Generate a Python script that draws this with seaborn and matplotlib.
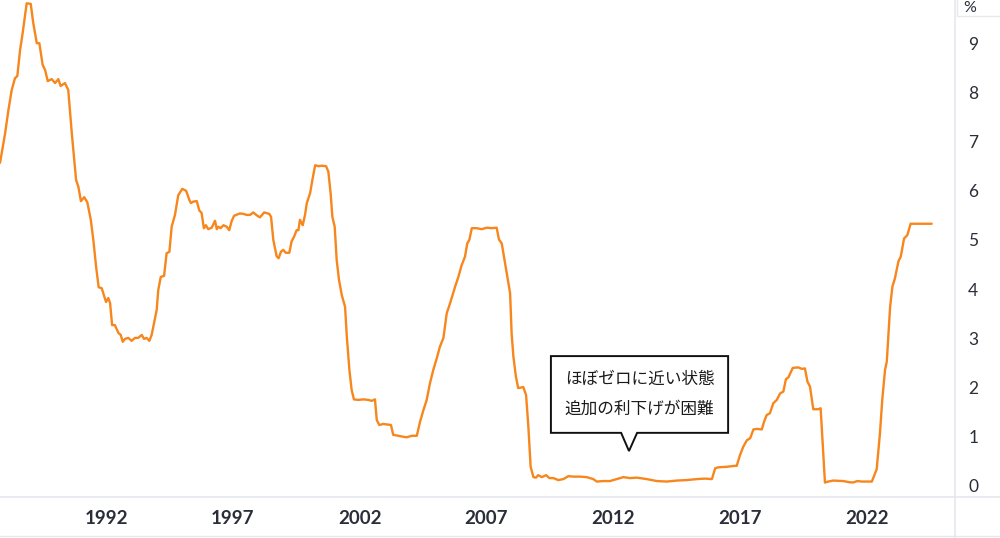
import matplotlib
matplotlib.use("Agg")
import matplotlib.pyplot as plt
import seaborn as sns
import pandas as pd
from matplotlib.patches import Polygon, Rectangle
from matplotlib.lines import Line2D

# policy rate (%), decimal years
years = [
    1987.82, 1988.02, 1988.15, 1988.28, 1988.41, 1988.50, 1988.61, 1988.71, 1988.87, 1989.03,
    1989.13, 1989.27, 1989.37, 1989.50, 1989.60, 1989.70, 1989.86, 1989.99, 1990.12, 1990.21,
    1990.38, 1990.51, 1990.65, 1990.82, 1990.91, 1991.01, 1991.14, 1991.26, 1991.40, 1991.50,
    1991.61, 1991.71, 1991.83, 1992.00, 1992.09, 1992.16, 1992.24, 1992.35, 1992.49, 1992.58,
    1992.66, 1992.75, 1992.88, 1993.01, 1993.14, 1993.27, 1993.41, 1993.50, 1993.60, 1993.71,
    1993.80, 1993.87, 1994.00, 1994.06, 1994.16, 1994.29, 1994.39, 1994.50, 1994.59, 1994.72,
    1994.85, 1995.01, 1995.16, 1995.29, 1995.35, 1995.44, 1995.58, 1995.68, 1995.77, 1995.86,
    1995.94, 1996.03, 1996.17, 1996.30, 1996.37, 1996.43, 1996.52, 1996.63, 1996.76, 1996.86,
    1996.96, 1997.05, 1997.18, 1997.29, 1997.42, 1997.55, 1997.68, 1997.81, 1997.95, 1998.07,
    1998.24, 1998.44, 1998.51, 1998.60, 1998.73, 1998.81, 1998.90, 1998.99, 1999.09, 1999.23,
    1999.32, 1999.42, 1999.52, 1999.59, 1999.65, 1999.76, 1999.85, 1999.92, 2000.05, 2000.14,
    2000.25, 2000.38, 2000.51, 2000.68, 2000.77, 2000.86, 2000.93, 2001.02, 2001.10, 2001.19,
    2001.30, 2001.43, 2001.50, 2001.60, 2001.69, 2001.78, 2001.95, 2002.15, 2002.35, 2002.48,
    2002.61, 2002.68, 2002.78, 2002.94, 2003.10, 2003.24, 2003.33, 2003.53, 2003.73, 2003.86,
    2004.06, 2004.26, 2004.39, 2004.52, 2004.65, 2004.78, 2004.91, 2005.05, 2005.17, 2005.31,
    2005.44, 2005.57, 2005.77, 2005.90, 2006.03, 2006.16, 2006.25, 2006.33, 2006.43, 2006.62,
    2006.82, 2007.02, 2007.22, 2007.41, 2007.50, 2007.61, 2007.74, 2007.87, 2007.94, 2008.00,
    2008.07, 2008.17, 2008.26, 2008.46, 2008.57, 2008.66, 2008.75, 2008.86, 2008.96, 2009.05,
    2009.19, 2009.36, 2009.49, 2009.65, 2009.84, 2010.04, 2010.24, 2010.43, 2010.70, 2010.96,
    2011.22, 2011.36, 2011.62, 2011.88, 2012.15, 2012.41, 2012.67, 2012.94, 2013.33, 2013.73,
    2014.12, 2014.52, 2014.91, 2015.31, 2015.63, 2015.90, 2016.03, 2016.16, 2016.49, 2016.81,
    2016.88, 2017.01, 2017.14, 2017.28, 2017.41, 2017.54, 2017.67, 2017.87, 2017.96, 2018.06,
    2018.19, 2018.32, 2018.46, 2018.59, 2018.72, 2018.82, 2018.92, 2019.09, 2019.31, 2019.45,
    2019.57, 2019.67, 2019.77, 2019.90, 2020.10, 2020.19, 2020.27, 2020.36, 2020.49, 2020.69,
    2021.09, 2021.28, 2021.46, 2021.64, 2021.81, 2022.21, 2022.40, 2022.53, 2022.62, 2022.73,
    2022.80, 2022.93, 2023.02, 2023.12, 2023.26, 2023.35, 2023.48, 2023.61, 2023.74, 2024.11,
    2024.57,
]
rates = [
    6.57, 7.17, 7.64, 8.05, 8.29, 8.33, 8.86, 9.20, 9.81, 9.80,
    9.41, 9.00, 9.00, 8.56, 8.45, 8.23, 8.27, 8.19, 8.27, 8.13,
    8.19, 8.05, 7.17, 6.22, 6.08, 5.79, 5.87, 5.77, 5.41, 5.00,
    4.45, 4.04, 4.02, 3.74, 3.82, 3.72, 3.27, 3.27, 3.11, 3.07,
    2.93, 2.99, 3.01, 2.95, 3.01, 3.01, 3.07, 2.99, 3.01, 2.95,
    3.07, 3.25, 3.58, 3.98, 4.25, 4.27, 4.73, 4.76, 5.27, 5.51,
    5.91, 6.04, 6.00, 5.81, 5.75, 5.78, 5.79, 5.60, 5.55, 5.24,
    5.30, 5.22, 5.25, 5.39, 5.22, 5.27, 5.24, 5.30, 5.27, 5.20,
    5.39, 5.49, 5.52, 5.54, 5.53, 5.51, 5.51, 5.56, 5.50, 5.46,
    5.56, 5.53, 5.47, 5.00, 4.67, 4.63, 4.76, 4.80, 4.74, 4.74,
    4.97, 5.07, 5.20, 5.20, 5.41, 5.30, 5.51, 5.75, 5.95, 6.22,
    6.52, 6.50, 6.51, 6.50, 6.39, 5.95, 5.47, 5.27, 4.59, 4.19,
    3.88, 3.64, 3.03, 2.36, 1.95, 1.76, 1.75, 1.76, 1.75, 1.73,
    1.76, 1.34, 1.24, 1.26, 1.25, 1.24, 1.04, 1.02, 1.00, 0.99,
    1.02, 1.02, 1.31, 1.54, 1.75, 2.09, 2.36, 2.60, 2.83, 3.01,
    3.51, 3.71, 4.05, 4.25, 4.49, 4.66, 4.93, 5.00, 5.24, 5.24,
    5.22, 5.25, 5.24, 5.25, 5.01, 4.93, 4.53, 4.12, 3.92, 3.10,
    2.63, 2.22, 1.99, 2.01, 1.85, 1.21, 0.39, 0.18, 0.17, 0.22,
    0.18, 0.22, 0.16, 0.16, 0.12, 0.14, 0.20, 0.19, 0.19, 0.18,
    0.14, 0.09, 0.10, 0.10, 0.14, 0.18, 0.16, 0.17, 0.14, 0.10,
    0.09, 0.11, 0.12, 0.14, 0.15, 0.14, 0.36, 0.38, 0.39, 0.41,
    0.41, 0.63, 0.80, 0.93, 0.97, 1.15, 1.16, 1.15, 1.31, 1.44,
    1.48, 1.68, 1.75, 1.88, 1.92, 2.17, 2.21, 2.40, 2.41, 2.38,
    2.39, 2.12, 2.02, 1.56, 1.56, 1.58, 0.87, 0.07, 0.09, 0.11,
    0.10, 0.08, 0.07, 0.10, 0.09, 0.09, 0.34, 1.07, 1.75, 2.36,
    2.53, 3.64, 4.05, 4.22, 4.57, 4.66, 5.03, 5.10, 5.33, 5.33,
    5.33,
]
tick_years = [1992, 1997, 2002, 2007, 2012, 2017, 2022]
y_ticks = [0, 1, 2, 3, 4, 5, 6, 7, 8, 9]
note_lines = ["ほぼゼロに近い状態", "追加の利下げが困難"]

df = pd.DataFrame({"year": years, "rate": rates})

sns.set_theme(style="white")
plt.rcParams["font.family"] = ["Lato", "Noto Sans CJK JP", "DejaVu Sans"]

fig = plt.figure(figsize=(10, 5.38), dpi=100)
ax = fig.add_axes([0.0, 1 - 497 / 538, 0.955, 497 / 538])

sns.lineplot(data=df, x="year", y="rate", ax=ax, color="#f7861c", linewidth=1.7)

ax.set_xlim(1987.818, 2025.49)
ax.set_ylim(-0.224, 9.878)
ax.set_xlabel("")
ax.set_ylabel("")
for s in ax.spines.values():
    s.set_visible(False)

ax.set_xticks(tick_years)
ax.set_xticklabels([str(y) for y in tick_years], fontsize=13.5, fontweight="bold", color="#2a2e39")
ax.yaxis.tick_right()
ax.set_yticks(y_ticks)
ax.set_yticklabels([str(v) for v in y_ticks], fontsize=12.5, color="#2a2e39")
ax.tick_params(axis="x", length=0, pad=9)
ax.tick_params(axis="y", length=0, pad=9.5)

# separators of the chart frame
sep = "#e6e8ee"
fig.add_artist(Line2D([0, 1], [1 - 497 / 538] * 2, color=sep, lw=1.2, transform=fig.transFigure))
fig.add_artist(Line2D([0.955, 0.955], [0, 1], color=sep, lw=1.2, transform=fig.transFigure))
fig.add_artist(Line2D([0, 1], [0.003, 0.003], color=sep, lw=1.0, transform=fig.transFigure))
fig.add_artist(Rectangle((0.957, 1 - 16 / 538), 0.06, 0.04, transform=fig.transFigure,
                         facecolor="white", edgecolor=sep, lw=1.0))
fig.text(0.963, 1 - 1 / 538, "%", ha="left", va="top", fontsize=11.5, color="#2a2e39")

# callout box
bx0, bx1 = 2009.55, 2016.54
by0, by1 = 1.08, 2.64
nx0, nx1, ntip, ny = 2012.32, 2012.95, 2012.63, 0.71
callout = Polygon(
    [(bx0, by0), (bx0, by1), (bx1, by1), (bx1, by0), (nx1, by0), (ntip, ny), (nx0, by0)],
    closed=True, facecolor="white", edgecolor="#111111", lw=1.4, zorder=5,
)
ax.add_patch(callout)
cx = (bx0 + bx1) / 2
for line, yv in zip(note_lines, [2.16, 1.55]):
    ax.text(cx, yv, line, ha="center", va="center", fontsize=12,
            family=["Noto Sans CJK JP", "DejaVu Sans"], color="#1a1a1a", zorder=6)

fig.savefig("out.png", dpi=100)
